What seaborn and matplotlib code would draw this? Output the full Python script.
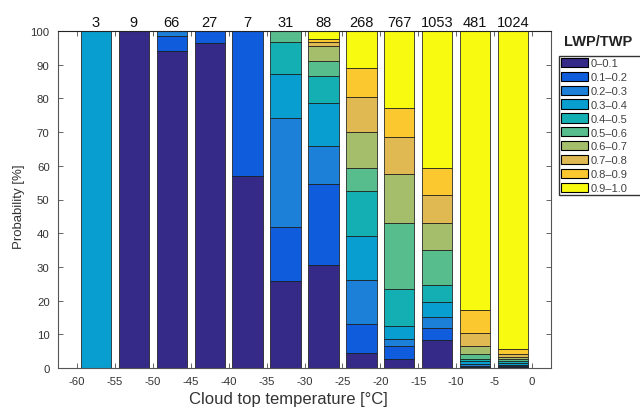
import numpy as np
import pandas as pd
import matplotlib
matplotlib.use("Agg")
import matplotlib.pyplot as plt
import seaborn as sns
from matplotlib.patches import Patch

# ---- data ----
temps = [-57.5, -52.5, -47.5, -42.5, -37.5, -32.5, -27.5, -22.5, -17.5, -12.5, -7.5, -2.5]
counts = [3, 9, 66, 27, 7, 31, 88, 268, 767, 1053, 481, 1024]
classes = ["0\u20130.1", "0.1\u20130.2", "0.2\u20130.3", "0.3\u20130.4", "0.4\u20130.5",
           "0.5\u20130.6", "0.6\u20130.7", "0.7\u20130.8", "0.8\u20130.9", "0.9\u20131.0"]
colors = ["#352a87", "#0f5cdd", "#1c80d8", "#089fd0", "#14afb3",
          "#58bd8c", "#a5be6b", "#e0b952", "#fbc92f", "#f8fa0f"]

p00 = [0, 100, 94.0, 96.3, 57.1, 25.8, 30.7, 4.5, 2.6, 8.3, 0.2, 0.3]
p01 = [0, 0, 4.5, 3.7, 42.9, 16.1, 23.9, 8.6, 3.9, 3.7, 0.4, 0.3]
p02 = [0, 0, 1.5, 0, 0, 32.3, 11.4, 13.0, 2.1, 3.0, 0.6, 0.4]
p03 = [100, 0, 0, 0, 0, 12.9, 12.5, 13.2, 3.9, 4.5, 0.8, 0.5]
p04 = [0, 0, 0, 0, 0, 9.7, 8.0, 13.1, 11.0, 5.0, 0.8, 0.5]
p05 = [0, 0, 0, 0, 0, 3.2, 4.5, 7.0, 19.5, 10.5, 1.4, 0.6]
p06 = [0, 0, 0, 0, 0, 0, 4.5, 10.5, 14.6, 8.0, 2.4, 0.6]
p07 = [0, 0, 0, 0, 0, 0, 1.1, 10.4, 10.8, 8.2, 3.8, 1.0]
p08 = [0, 0, 0, 0, 0, 0, 1.1, 8.6, 8.8, 8.1, 6.8, 1.5]
p09 = [0, 0, 0, 0, 0, 0, 2.3, 11.1, 22.8, 40.7, 82.8, 94.3]
xticks = list(range(-60, 1, 5))
yticks = list(range(0, 101, 10))
bin_edges = list(range(-60, 1, 5))

pcts = [p00, p01, p02, p03, p04, p05, p06, p07, p08, p09]
rows = []
for cls, vals in zip(classes, pcts):
    for t, v in zip(temps, vals):
        if v > 0:
            rows.append({"temp": t, "pct": v, "cls": cls})
df = pd.DataFrame(rows)

# ---- style ----
sns.set_style("ticks")
plt.rcParams["font.family"] = ["Liberation Sans", "DejaVu Sans"]
dark = "#333333"

fig = plt.figure(figsize=(6.4, 4.1), dpi=100)
ax = fig.add_axes([58 / 640, 1 - 369 / 410, (551 - 58) / 640, (369 - 32) / 410])

sns.histplot(data=df, x="temp", weights="pct", hue="cls",
             hue_order=classes[::-1], palette=dict(zip(classes, colors)),
             multiple="stack", bins=bin_edges, shrink=0.8,
             edgecolor="#1a1a1a", linewidth=0.55, alpha=1, legend=False, ax=ax)

ax.set_xlim(-62.5, 2.5)
ax.set_ylim(0, 100)
ax.set_xticks(xticks)
ax.set_xticklabels([str(v) for v in xticks])
ax.set_yticks(yticks)
ax.tick_params(direction="in", top=True, right=True, length=3.5, width=0.7,
               labelsize=8.2, colors="#666666", labelcolor=dark, pad=6)
for sp in ax.spines.values():
    sp.set_color("#555555")
    sp.set_linewidth(0.8)
ax.spines["top"].set_color("#222222")
ax.set_xlabel("Cloud top temperature [\u00b0C]", fontsize=12, color=dark)
ax.xaxis.set_label_coords((288 - 58) / 493, (369 - 392) / 337)
ax.set_ylabel("Probability [%]", fontsize=9.5, color=dark)
ax.yaxis.set_label_coords((25 - 58) / 493, (369 - 207) / 337)

for t, n in zip(temps, counts):
    ax.annotate(str(n), xy=(t, 1.0), xycoords=("data", "axes fraction"),
                xytext=(0, 3.6), textcoords="offset points",
                ha="center", va="baseline", fontsize=10.5, color="#111111")

handles = [Patch(facecolor=c, edgecolor="black", linewidth=0.8) for c in colors]
fig.legend(handles, classes, loc="upper left",
           bbox_to_anchor=(559 / 640, 1 - 56.5 / 410, 0.2, 0), mode="expand",
           frameon=True, fancybox=False, edgecolor="#333333", framealpha=1,
           fontsize=8, handlelength=2.45, handleheight=0.9, labelspacing=0.31,
           handletextpad=0.2, borderpad=0.2, borderaxespad=0, labelcolor="#404040")
fig.text(598 / 640, 1 - 42.5 / 410, "LWP/TWP", weight="bold", ha="center", va="center",
         fontsize=10.5, color="#222222")

fig.savefig("out.png", dpi=100)
